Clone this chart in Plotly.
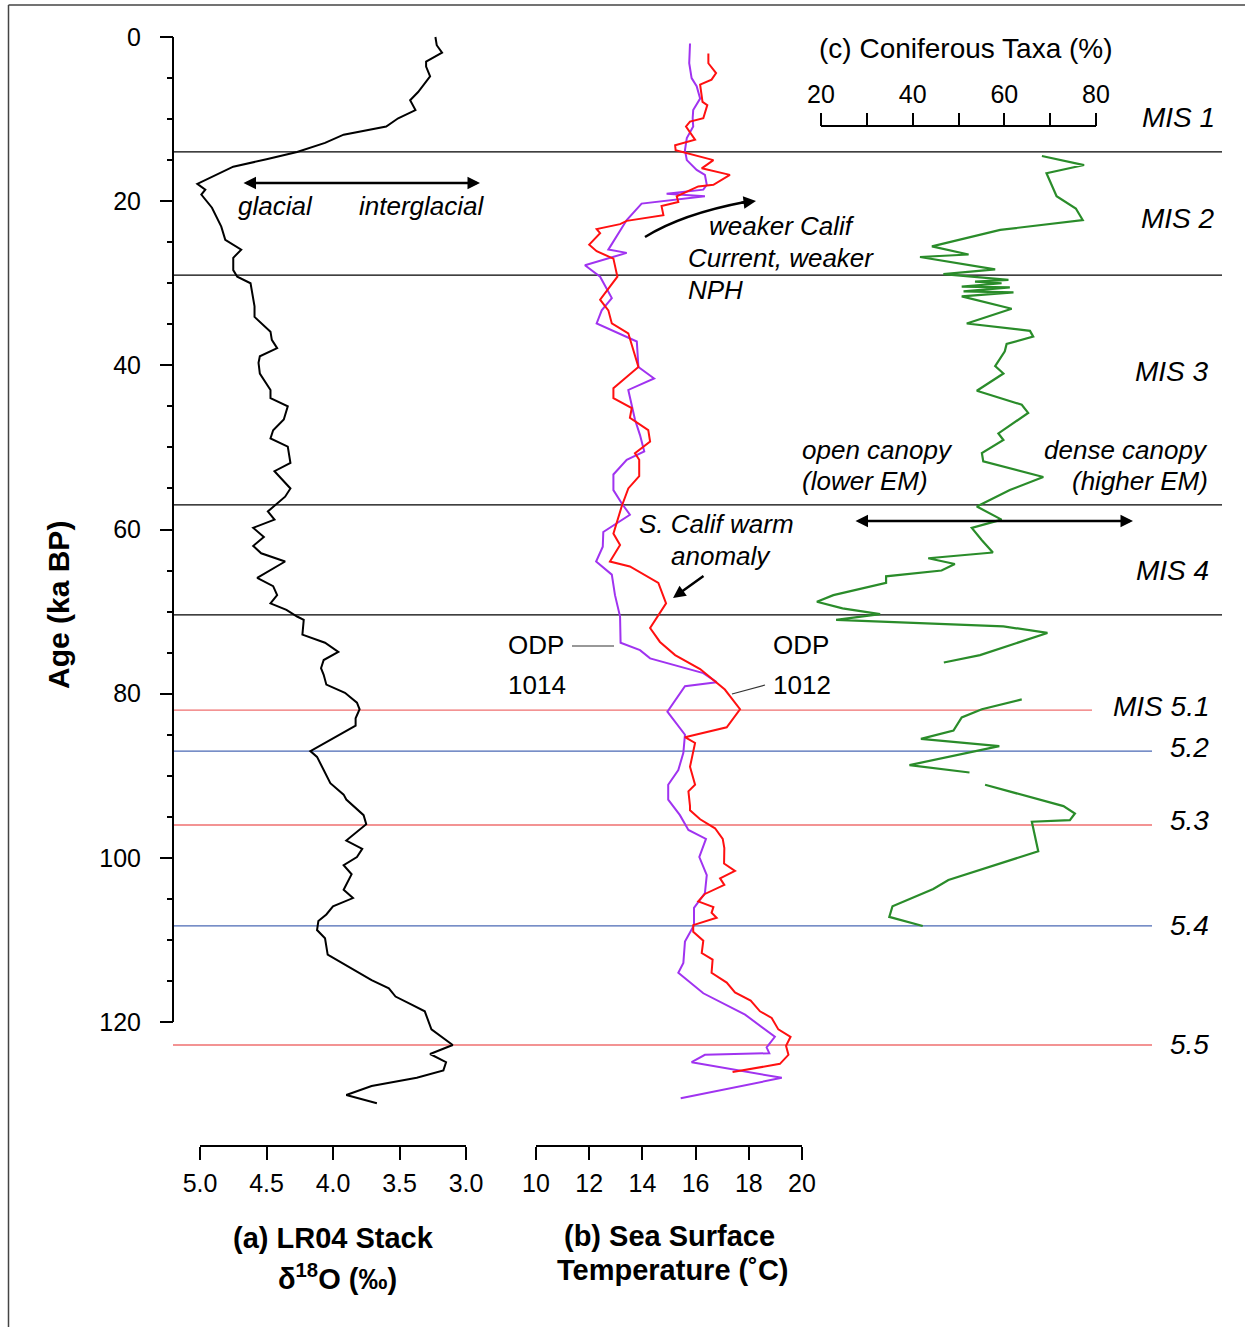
import plotly.graph_objects as go

W, H = 1245, 1327

# ---------------- data ----------------
# LR04 benthic stack (age ka BP, d18O permil)
lr04_age = [0, 1.0, 1.9, 3.0, 3.6, 4.8, 6.7, 7.7, 8.9, 9.9, 10.9, 11.9, 12.9, 14.0, 14.9,
            15.8, 17.9, 18.6, 19.2, 20.8, 23.1, 24.7, 25.9, 26.9, 28.4, 29.2, 30.0, 31.6,
            32.8, 34.1, 35.9, 36.9, 37.9, 38.9, 39.7, 41.0, 43.0, 44.0, 45.0, 46.6, 47.9,
            48.9, 49.9, 51.9, 52.9, 55.0, 56.0, 57.8, 58.8, 59.8, 60.9, 62.0, 62.9, 63.9,
            65.9, 66.9, 68.0, 69.0, 69.8, 70.6, 71.0, 72.8, 73.8, 74.9, 75.9, 76.9, 77.7,
            78.9, 79.9, 81.1, 81.9, 83.0, 83.9, 87.0, 87.7, 89.3, 90.9, 92.3, 92.9, 94.8,
            95.9, 97.9, 98.9, 99.9, 100.9, 102.0, 103.9, 104.9, 105.9, 106.9, 107.7, 108.8,
            109.8, 111.8, 113.8, 114.9, 115.9, 116.9, 117.8, 118.7, 120.9, 122.8, 123.9,
            124.9, 125.9, 126.8, 127.8, 128.9, 129.9]
lr04_d18o = [3.23, 3.22, 3.18, 3.30, 3.30, 3.27, 3.36, 3.42, 3.38, 3.51, 3.60, 3.92, 4.06,
             4.27, 4.50, 4.75, 5.02, 4.96, 4.99, 4.91, 4.84, 4.81, 4.69, 4.75, 4.75, 4.72,
             4.62, 4.60, 4.59, 4.59, 4.47, 4.46, 4.42, 4.55, 4.56, 4.55, 4.47, 4.47, 4.34,
             4.37, 4.45, 4.47, 4.34, 4.32, 4.44, 4.32, 4.36, 4.49, 4.44, 4.60, 4.52, 4.60,
             4.54, 4.36, 4.57, 4.45, 4.42, 4.47, 4.35, 4.27, 4.22, 4.23, 4.06, 3.96, 4.07,
             4.09, 4.07, 4.05, 3.91, 3.82, 3.80, 3.83, 3.83, 4.17, 4.12, 4.07, 4.02, 3.92,
             3.90, 3.77, 3.75, 3.90, 3.78, 3.82, 3.92, 3.86, 3.92, 3.85, 4.00, 4.05, 4.11,
             4.12, 4.06, 4.04, 3.82, 3.71, 3.58, 3.53, 3.42, 3.31, 3.26, 3.10, 3.27, 3.15,
             3.17, 3.37, 3.71, 3.90, 3.67]

# ODP 1014 alkenone SST (deg C)
odp1014_age = [0.8, 3.2, 5.0, 6.0, 7.5, 8.9, 9.9, 10.9, 12.3, 13.8, 15.0, 16.2, 16.8, 18.0,
               18.6, 19.1, 19.4, 20.3, 22.3, 25.9, 26.3, 27.8, 29.2, 31.8, 33.3, 34.9, 37.1,
               40.2, 41.6, 43.0, 46.6, 48.5, 50.5, 51.5, 53.3, 55.2, 56.8, 58.2, 60.3, 62.1,
               63.9, 65.5, 68.0, 70.6, 73.8, 74.7, 75.7, 77.5, 78.6, 79.1, 82.2, 85.0, 87.2,
               89.3, 91.1, 92.9, 94.8, 96.6, 97.7, 99.9, 102.1, 104.3, 106.1, 108.2, 110.2,
               112.8, 114.0, 116.5, 119.1, 121.8, 123.1, 123.8, 124.0, 124.9, 126.8, 129.3]
odp1014_sst = [15.79, 15.76, 15.85, 16.04, 16.17, 15.91, 15.89, 15.91, 15.67, 15.60, 15.67,
               16.04, 16.35, 16.42, 16.29, 14.91, 16.35, 13.97, 13.41, 12.72, 13.41, 11.84,
               12.41, 12.85, 12.47, 12.28, 13.79, 13.85, 14.44, 13.47, 13.72, 13.91, 14.07,
               13.41, 12.91, 12.91, 13.22, 13.53, 12.53, 12.51, 12.26, 12.85, 12.97, 13.16,
               13.18, 13.91, 14.29, 16.29, 16.79, 15.60, 14.94, 15.60, 15.54, 15.35, 14.97,
               14.97, 15.41, 15.73, 16.39, 16.14, 16.42, 16.35, 15.94, 15.94, 15.60, 15.54,
               15.35, 16.29, 17.86, 18.98, 18.67, 18.77, 16.35, 15.85, 19.24, 15.44]

# ODP 1012 alkenone SST (deg C)
odp1012_age = [2.0, 3.2, 4.4, 5.2, 5.8, 7.9, 8.3, 9.9, 10.3, 10.9, 12.5, 13.2, 13.8, 15.0,
               16.0, 16.8, 18.0, 18.2, 19.4, 20.1, 20.6, 21.7, 22.4, 22.8, 23.4, 23.9, 25.3,
               26.1, 27.0, 29.2, 32.0, 33.3, 34.9, 36.1, 40.2, 42.8, 44.0, 45.2, 46.4, 47.9,
               49.3, 50.7, 51.5, 53.5, 55.0, 57.2, 60.5, 61.9, 63.9, 64.5, 66.5, 69.0, 72.0,
               73.7, 75.3, 77.0, 79.5, 81.9, 84.1, 85.3, 86.0, 87.2, 88.9, 91.1, 91.9, 93.7,
               94.2, 95.3, 96.4, 97.7, 98.8, 100.7, 101.6, 102.5, 103.3, 104.4, 105.3, 106.0,
               106.7, 107.3, 108.2, 109.0, 110.1, 111.6, 112.4, 114.0, 115.2, 116.4, 117.4,
               118.7, 119.5, 120.9, 121.8, 122.9, 124.0, 125.1, 126.1]
odp1012_sst = [16.48, 16.48, 16.77, 16.60, 16.17, 16.26, 16.44, 16.29, 15.79, 15.64, 15.98,
               15.23, 15.25, 16.67, 16.23, 17.29, 16.67, 16.10, 15.29, 15.35, 14.72, 14.79,
               13.41, 13.16, 12.28, 12.41, 12.00, 12.28, 12.91, 13.06, 12.41, 12.72, 12.85,
               13.47, 13.85, 12.91, 12.91, 13.60, 13.53, 14.22, 14.29, 13.72, 13.88, 13.88,
               13.47, 13.22, 12.91, 13.16, 12.78, 13.53, 14.60, 14.89, 14.29, 14.66, 15.23,
               16.17, 17.10, 17.67, 17.17, 15.60, 15.98, 15.89, 15.79, 15.98, 15.73, 15.79,
               15.79, 16.17, 16.73, 17.02, 17.08, 17.07, 17.48, 16.92, 17.08, 16.35, 16.10,
               16.67, 16.60, 16.79, 15.91, 15.91, 16.29, 16.23, 16.64, 16.60, 17.17, 17.48,
               18.07, 18.42, 18.86, 19.11, 19.57, 19.40, 19.49, 19.17, 17.39]

# Coniferous pollen taxa (%); None marks breaks in the record
conifer_age = [14.5, 15.6, 16.6, 19.4, 20.9, 22.3, 23.5, 25.5, 26.5, 26.8, 28.3, 28.9, 29.6,
               29.8, 30.0, 30.4, 30.5, 31.0, 31.1, 31.6, 33.1, 34.9, 35.8, 36.5, 37.4, 38.3,
               40.1, 41.0, 43.1, 44.8, 45.8, 48.3, 49.1, 50.7, 51.7, 53.6, 55.2, 57.2, 58.8,
               59.8, 61.3, 62.8, 63.5, 64.2, 65.0, 65.7, 66.5, 68.0, 68.8, 69.6, 70.3, 71.0,
               71.8, 72.6, 75.3, 76.2, None, 80.7, 81.9, 82.9, 84.5, 85.5, 86.4, 88.7, 89.6,
               None, 91.1, 93.7, 94.6, 95.4, 95.6, 99.2, 102.7, 103.8, 105.9, 107.2, 108.3]
conifer_pct = [68.2, 77.4, 69.2, 71.4, 75.6, 77.1, 59.1, 44.2, 52.2, 41.6, 58.0, 46.7, 60.9,
               53.6, 59.4, 50.7, 61.2, 51.1, 62.0, 50.7, 61.6, 51.8, 65.6, 66.3, 60.5, 60.1,
               58.0, 59.8, 54.0, 63.8, 65.2, 58.7, 59.8, 55.1, 55.4, 68.5, 61.2, 54.0, 59.4,
               52.9, 55.1, 57.5, 43.4, 49.2, 46.3, 34.2, 34.2, 22.7, 19.1, 24.7, 32.9, 23.3,
               59.8, 69.4, 54.7, 46.8, None, 63.8, 55.1, 50.7, 48.9, 41.8, 58.9, 39.3, 52.4,
               None, 55.8, 72.9, 75.4, 74.3, 66.0, 67.4, 47.8, 44.5, 35.6, 34.9, 42.2]

# Marine isotope stage boundaries and substage markers (ka)
mis_bounds = [14, 29, 57, 70.4]
substage_warm = [82, 96, 122.8]
substage_cold = [87, 108.3]
mis_labels = ["MIS 1", "MIS 2", "MIS 3", "MIS 4", "MIS 5.1", "5.2", "5.3", "5.4", "5.5"]
mis_label_age = [9.8, 22.1, 40.7, 65.0, 81.6, 86.5, 95.5, 108.2, 122.8]

# Tick values
age_ticks = [0, 20, 40, 60, 80, 100, 120]
age_minor = [a for a in range(5, 120, 5) if a % 20]
d18o_ticks = [5.0, 4.5, 4.0, 3.5, 3.0]
sst_ticks = [10, 12, 14, 16, 18, 20]
conifer_ticks = [20, 30, 40, 50, 60, 70, 80]
conifer_ticktext = ["20", " ", "40", " ", "60", " ", "80"]

# ---------------- layout geometry (pixels) ----------------
AGE_AXIS_X = 173
AGE0_Y, AGE120_Y = 37, 1022
BOTTOM_AXIS_Y = 1146
TOP_AXIS_Y = 126


def span(v_a, p_a, v_b, p_b, total):
    """Axis range so that value v_a falls on pixel p_a and v_b on p_b."""
    k = (v_b - v_a) / (p_b - p_a)
    return [v_a - p_a * k, v_a + (total - p_a) * k]


yr = span(0, AGE0_Y, 120, AGE120_Y, H)          # pixel measured from top
y_range = [yr[1], yr[0]]                          # bottom value first
x_lr04 = span(5.0, 200, 3.0, 466, W)
x_sst = span(10, 536, 20, 802, W)
x_con = span(20, 821, 80, 1096, W)


def px(x):
    return x / W


def py(y):
    return 1 - y / H


FONT = "Liberation Sans, Arial, Helvetica, sans-serif"
TICKFONT = dict(family=FONT, size=25, color="black")

fig = go.Figure()

fig.add_trace(go.Scatter(x=lr04_d18o, y=lr04_age, mode="lines", xaxis="x", yaxis="y",
                         line=dict(color="black", width=2), name="LR04"))
fig.add_trace(go.Scatter(x=odp1014_sst, y=odp1014_age, mode="lines", xaxis="x2", yaxis="y",
                         line=dict(color="#a033f0", width=2), name="ODP 1014"))
fig.add_trace(go.Scatter(x=odp1012_sst, y=odp1012_age, mode="lines", xaxis="x2", yaxis="y",
                         line=dict(color="#ff1010", width=2), name="ODP 1012"))
fig.add_trace(go.Scatter(x=conifer_pct, y=conifer_age, mode="lines", xaxis="x3", yaxis="y",
                         line=dict(color="#2a8c2a", width=2.2), name="Coniferous"))

common_x = dict(domain=[0, 1], anchor="free", showline=False, showgrid=False, zeroline=False,
                ticks="outside", ticklen=13, tickwidth=2, tickcolor="black",
                tickmode="array", tickfont=TICKFONT, automargin=False, fixedrange=True)

fig.update_layout(
    width=W, height=H,
    margin=dict(l=0, r=0, t=0, b=0, pad=0),
    paper_bgcolor="white", plot_bgcolor="white",
    showlegend=False,
    font=dict(family=FONT, color="black"),
    xaxis=dict(common_x, range=x_lr04, position=py(BOTTOM_AXIS_Y), side="bottom",
               tickvals=d18o_ticks, ticktext=[f"{v:.1f}" for v in d18o_ticks],
               ticklabelstandoff=2),
    xaxis2=dict(common_x, range=x_sst, position=py(BOTTOM_AXIS_Y), side="bottom",
                overlaying="x", tickvals=sst_ticks, ticktext=[str(v) for v in sst_ticks],
                ticklabelstandoff=2),
    xaxis3=dict(common_x, range=x_con, position=py(TOP_AXIS_Y), side="top",
                overlaying="x", tickvals=conifer_ticks, ticktext=conifer_ticktext),
    yaxis=dict(domain=[0, 1], range=y_range, anchor="free", position=px(AGE_AXIS_X),
               side="left", showline=False, showgrid=False, zeroline=False,
               ticks="outside", ticklen=13, tickwidth=2, tickcolor="black",
               tickmode="array", tickvals=age_ticks, ticktext=[str(a) for a in age_ticks],
               minor=dict(tickmode="array", tickvals=age_minor, ticks="outside",
                          ticklen=6, tickwidth=2, tickcolor="black"),
               ticklabelstandoff=14,
               tickfont=TICKFONT, automargin=False, fixedrange=True),
)

shapes = []
# axis lines limited to the labelled spans
shapes.append(dict(type="line", xref="paper", yref="y", x0=px(AGE_AXIS_X), x1=px(AGE_AXIS_X),
                   y0=0, y1=120, line=dict(color="black", width=2)))
shapes.append(dict(type="line", xref="x", yref="paper", x0=5.0, x1=3.0,
                   y0=py(BOTTOM_AXIS_Y), y1=py(BOTTOM_AXIS_Y), line=dict(color="black", width=2)))
shapes.append(dict(type="line", xref="x2", yref="paper", x0=10, x1=20,
                   y0=py(BOTTOM_AXIS_Y), y1=py(BOTTOM_AXIS_Y), line=dict(color="black", width=2)))
shapes.append(dict(type="line", xref="x3", yref="paper", x0=20, x1=80,
                   y0=py(TOP_AXIS_Y), y1=py(TOP_AXIS_Y), line=dict(color="black", width=2)))

# stage boundaries
for a in mis_bounds:
    shapes.append(dict(type="line", xref="paper", yref="y", x0=px(AGE_AXIS_X), x1=px(1222),
                       y0=a, y1=a, layer="below", line=dict(color="black", width=1.2)))
for i, a in enumerate(substage_warm):
    x_end = 1092 if i == 0 else 1152
    shapes.append(dict(type="line", xref="paper", yref="y", x0=px(AGE_AXIS_X), x1=px(x_end),
                       y0=a, y1=a, layer="below", line=dict(color="#ef6f6f", width=1.3)))
for a in substage_cold:
    shapes.append(dict(type="line", xref="paper", yref="y", x0=px(AGE_AXIS_X), x1=px(1152),
                       y0=a, y1=a, layer="below", line=dict(color="#4a68b4", width=1.3)))

# frame
shapes.append(dict(type="line", xref="paper", yref="paper", x0=px(8.5), x1=px(8.5),
                   y0=py(5), y1=0, line=dict(color="#444444", width=1.5)))
shapes.append(dict(type="line", xref="paper", yref="paper", x0=px(8.5), x1=1,
                   y0=py(5), y1=py(5), line=dict(color="#444444", width=1.5)))

# curved arrow body (weaker California Current)
shapes.append(dict(type="path", xref="paper", yref="paper",
                   path=f"M {px(645)},{py(237)} Q {px(682)},{py(214)} {px(745)},{py(202)}",
                   line=dict(color="black", width=2.5)))
# leader lines to core labels
shapes.append(dict(type="line", xref="paper", yref="paper", x0=px(572), x1=px(614),
                   y0=py(646), y1=py(646), line=dict(color="#333333", width=1.2)))
shapes.append(dict(type="line", xref="paper", yref="paper", x0=px(732), x1=px(765),
                   y0=py(694), y1=py(685), line=dict(color="#333333", width=1.2)))

fig.update_layout(shapes=shapes)

ann = []


def text(t, x, y, anchor="left", size=26, italic=True, bold=False):
    s = t
    if bold:
        s = f"<b>{s}</b>"
    if italic:
        s = f"<i>{s}</i>"
    ann.append(dict(text=s, x=px(x), y=py(y), xref="paper", yref="paper", xanchor=anchor,
                    yanchor="middle", showarrow=False,
                    font=dict(family=FONT, size=size, color="black")))


def arrow(x_head, y_head, x_tail, y_tail, both=False, width=2.5):
    ann.append(dict(text="", x=px(x_head), y=py(y_head), xref="paper", yref="paper",
                    ax=x_tail - x_head, ay=y_tail - y_head, axref="pixel", ayref="pixel",
                    showarrow=True, arrowhead=2, arrowsize=1.0, arrowwidth=width,
                    arrowcolor="black", arrowside="end+start" if both else "end",
                    startarrowhead=2, startarrowsize=1.0, standoff=0, startstandoff=0))


text("glacial", 236, 206)
text("interglacial", 357, 206)
arrow(480, 183, 242, 183, both=True)

text("weaker Calif", 707, 226)
text("Current, weaker", 686, 258)
text("NPH", 686, 290)
arrow(756, 201, 740, 203)

text("S. Calif warm", 637, 524)
text("anomaly", 669, 556)
arrow(673, 598, 705, 575)

text("ODP", 506, 645, italic=False)
text("1014", 506, 685, italic=False)
text("ODP", 771, 645, italic=False)
text("1012", 771, 685, italic=False)

text("open canopy", 800, 450)
text("(lower EM)", 800, 481)
text("dense canopy", 1210, 450, anchor="right")
text("(higher EM)", 1210, 481, anchor="right")
arrow(1133, 521, 854, 521, both=True)

for lab, a in zip(mis_labels, mis_label_age):
    right = 1217 if lab in ("MIS 1", "MIS 2") else 1211
    text(lab, right, AGE0_Y + a * (AGE120_Y - AGE0_Y) / 120, anchor="right", size=28)

text("(c) Coniferous Taxa (%)", 966, 48, anchor="center", size=28, italic=False)
text("(a) LR04 Stack", 333, 1238, anchor="center", size=29, italic=False, bold=True)
text("δ<sup>18</sup>O (‰)", 337, 1277, anchor="center", size=29, italic=False, bold=True)
text("(b) Sea Surface", 669, 1236, anchor="center", size=29, italic=False, bold=True)
text("Temperature (˚C)", 673, 1270, anchor="center", size=29, italic=False, bold=True)

ann.append(dict(text="<b>Age (ka BP)</b>", x=px(58), y=py(605), xref="paper", yref="paper",
                xanchor="center", yanchor="middle", textangle=-90, showarrow=False,
                font=dict(family=FONT, size=30, color="black")))

fig.update_layout(annotations=ann)

fig.write_html("out.html")
